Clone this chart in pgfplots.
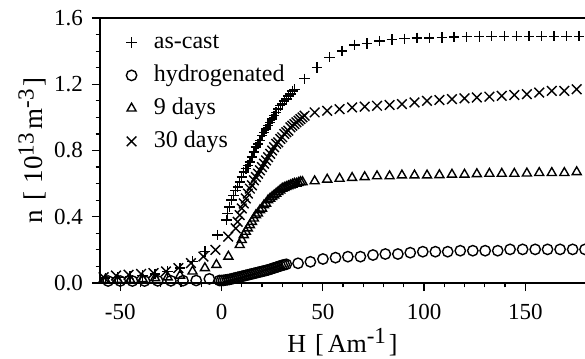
\documentclass[border=0pt]{standalone}
\usepackage{fontspec}
\setmainfont{Liberation Serif}
\usepackage{pgfplots}
\pgfplotsset{compat=1.18}
\usepackage{pgfplotstable}

\newcommand{\supx}[1]{\raisebox{0.75ex}{\fontsize{11.5}{12}\selectfont #1}}

\pgfplotstableread{
x y
-57.4 0.030
-51.3 0.035
-45.1 0.040
-39.0 0.045
-32.8 0.055
-26.6 0.070
-20.5 0.090
-14.3 0.130
-8.2 0.190
-2.0 0.290
2.5 0.38
3 0.42
4 0.46
5 0.50
6 0.53
7 0.56
8 0.58
9 0.61
10 0.64
11 0.67
12 0.69
13 0.71
14 0.73
15 0.76
16 0.79
17 0.82
18 0.84
19 0.86
20 0.89
21 0.91
22 0.93
23 0.95
24 0.97
25 0.99
26 1.01
27 1.03
28 1.05
29 1.07
30 1.08
31 1.10
32 1.11
33 1.13
34 1.14
35 1.16
36 1.17
41.0 1.233
47.2 1.300
53.3 1.363
59.5 1.400
65.6 1.438
71.8 1.447
78.0 1.460
84.1 1.470
90.3 1.475
96.5 1.480
102.6 1.480
108.8 1.482
114.9 1.485
121.1 1.487
127.3 1.488
133.4 1.490
139.6 1.490
145.8 1.490
151.9 1.490
158.1 1.490
164.2 1.490
170.4 1.490
176.6 1.490
}\ascast

\pgfplotstableread{
x y
-56 0.012
-50 0.012
-44 0.012
-38 0.012
-31.5 0.013
-25 0.013
-19 0.014
-12.5 0.015
-6 0.025
-1 0.015
0 0.015
1 0.016
2 0.018
3 0.020
4 0.022
5 0.025
6 0.028
7 0.031
8 0.034
9 0.037
10 0.040
11 0.043
12 0.046
13 0.049
14 0.052
15 0.055
16 0.058
17 0.061
18 0.064
19 0.067
20 0.070
21 0.073
22 0.076
23 0.079
24 0.083
25 0.087
26 0.091
27 0.095
28 0.099
29 0.103
30 0.107
31 0.110
32 0.113
37.8 0.119
43.9 0.128
50.1 0.145
56.3 0.153
62.4 0.159
68.6 0.159
74.8 0.169
80.9 0.175
87.1 0.175
93.2 0.183
99.4 0.189
105.6 0.189
111.7 0.189
117.9 0.195
124.1 0.195
130.2 0.195
136.4 0.195
142.5 0.203
148.7 0.203
154.9 0.203
161.0 0.203
167.2 0.203
173.4 0.203
179.5 0.203
}\hydro

\pgfplotstableread{
x y
-57.4 0.020
-51.3 0.020
-45.1 0.020
-39.0 0.025
-32.8 0.030
-26.6 0.035
-20.5 0.045
-14.3 0.070
-8.2 0.090
-2.5 0.110
3.4 0.160
9 0.23
10 0.26
11 0.29
12 0.31
13 0.33
14 0.35
15 0.37
16 0.39
17 0.41
18 0.42
19 0.44
20 0.45
21 0.47
22 0.48
23 0.50
24 0.51
25 0.52
26 0.53
27 0.54
28 0.55
29 0.56
30 0.57
31 0.575
32 0.58
33 0.585
34 0.59
35 0.595
36 0.60
37 0.60
38 0.605
39 0.61
40 0.61
46.0 0.615
52.2 0.625
58.3 0.630
64.5 0.635
70.7 0.640
76.8 0.645
83.0 0.645
89.1 0.650
95.3 0.650
101.5 0.650
107.6 0.652
113.8 0.655
120.0 0.655
126.1 0.658
132.3 0.660
138.4 0.660
144.6 0.660
150.8 0.662
156.9 0.665
163.1 0.665
169.3 0.665
175.4 0.670
}\ninedays

\pgfplotstableread{
x y
-58.2 0.035
-52.1 0.045
-45.9 0.050
-39.7 0.055
-33.6 0.060
-27.4 0.070
-21.3 0.090
-15.1 0.120
-8.9 0.160
-3.0 0.200
3.3 0.280
7 0.33
8 0.37
9 0.41
10 0.45
11 0.48
12 0.51
13 0.54
14 0.57
15 0.59
16 0.62
17 0.64
18 0.66
19 0.68
20 0.70
21 0.72
22 0.74
23 0.76
24 0.78
25 0.80
26 0.82
27 0.84
28 0.85
29 0.87
30 0.88
31 0.90
32 0.91
33 0.92
34 0.94
35 0.95
36 0.96
37 0.97
38 0.98
39 0.99
40 1.00
41 1.01
46.0 1.030
52.2 1.040
58.3 1.050
64.5 1.060
70.7 1.065
76.8 1.070
83.0 1.075
89.1 1.080
95.3 1.090
101.5 1.100
107.6 1.105
113.8 1.110
120.0 1.115
126.1 1.120
132.3 1.125
138.4 1.130
144.6 1.135
150.8 1.140
156.9 1.150
163.1 1.160
169.3 1.160
175.4 1.170
}\thirtydays

\begin{document}
\begin{tikzpicture}
\begin{axis}[
  scale only axis,
  width=242.5pt, height=132.5pt,
  xmin=-60, xmax=179.5,
  ymin=0, ymax=1.6,
  axis lines*=left,
  axis line style={line width=0.75pt},
  clip=false,
  xtick={-50,0,50,100,150},
  minor x tick num=4,
  ytick={0,0.4,0.8,1.2,1.6},
  minor y tick num=3,
  tick align=outside,
  major tick length=4pt,
  minor tick length=2.2pt,
  every tick/.style={black, line width=0.6pt},
  /pgf/number format/assume math mode=true,
  yticklabel style={/pgf/number format/fixed, /pgf/number format/fixed zerofill, /pgf/number format/precision=1, xshift=-1pt},
  tick label style={font=\fontsize{11.5}{13}\selectfont},
  xticklabel style={yshift=-3pt},
  xlabel={H\hspace{4.5pt}[\hspace{2pt}Am\supx{-1}\hspace{1.5pt}]},
  ylabel={n\hspace{5pt}[\hspace{4pt}10\supx{13}\hspace{2pt}m\supx{-3}\hspace{1.5pt}]},
  xlabel style={at={([yshift=-34.5pt]axis description cs:0.5,0)}, anchor=base, font=\fontsize{13}{15}\selectfont},
  ylabel style={at={([xshift=-28.5pt]axis description cs:0,0.5)}, anchor=base, font=\fontsize{13.5}{15}\selectfont},
  legend style={at={([yshift=-5.5pt]axis description cs:0.04,1)}, anchor=north west,
    draw=none, fill=none, inner sep=0pt, row sep=3.5pt,
    font=\fontsize{12}{14}\selectfont,
    nodes={inner sep=1pt, text height=8.5pt, text depth=2.5pt}},
  legend cell align=left,
  legend image code/.code={\draw[#1] plot coordinates {(0.2cm,0cm)}; \path (0cm,0cm) (0.55cm,0cm);},
]
\addplot[only marks, mark=+, mark size=2.6pt, mark options={line width=0.7pt}] table {\ascast};
\addlegendentry{as-cast}
\addplot[only marks, mark=o, mark size=2.6pt, mark options={line width=0.7pt}] table {\hydro};
\addlegendentry{hydrogenated}
\addplot[only marks, mark=triangle, mark size=2.6pt, mark options={line width=0.7pt}] table {\ninedays};
\addlegendentry{9 days}
\addplot[only marks, mark=x, mark size=3.4pt, mark options={line width=0.7pt}] table {\thirtydays};
\addlegendentry{30 days}
\draw[line width=0.75pt] (rel axis cs:0,1) -- (rel axis cs:1,1);
\coordinate (SW) at (rel axis cs:0,0);
\coordinate (NE) at (rel axis cs:1,1);
\end{axis}
\pgfresetboundingbox
\path ([xshift=-50pt,yshift=-38pt]SW) rectangle ([yshift=9pt]NE);
\end{tikzpicture}
\end{document}
